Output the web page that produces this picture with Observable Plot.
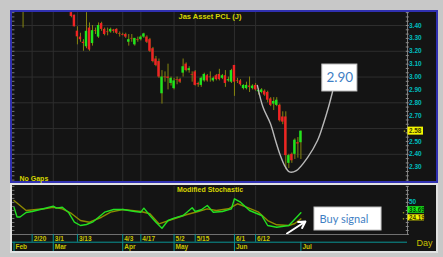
<!DOCTYPE html>
<html><head><meta charset="utf-8">
<script src="https://cdn.jsdelivr.net/npm/d3@7"></script>
<script src="https://cdn.jsdelivr.net/npm/@observablehq/plot@0.6"></script>
<style>
body{margin:0;background:#c8c8c8;}
#root{position:relative;width:443px;height:257px;overflow:hidden;background:#c8c8c8;}
.abs{position:absolute}
svg{display:block;max-width:none !important}
</style></head><body>
<div id="root">
 <div class="abs" style="left:10px;top:10px;width:424px;height:169px;border:2px solid #3030b0;background:#141414"></div>
 <div class="abs" style="left:10px;top:183px;width:424px;height:66px;border:2px solid #e2e2e2;background:#141414"></div>
 <div id="p1" class="abs" style="left:12px;top:12px;width:424px;height:169px"></div>
 <div id="p2" class="abs" style="left:12px;top:185px;width:424px;height:49px"></div>
 <div id="p3" class="abs" style="left:12px;top:233px;width:424px;height:18px"></div>
</div>
<script>
// ---- data (trading-day index on x) ----
const candleDay = [3, ...d3.range(19, 96)];
const candleOpen  = [3.54, 3.50,3.48,3.356,3.31,3.27,3.235,3.38,3.26,3.36,3.31,3.415,3.37,3.35,3.35,3.365,3.37,3.335,3.33,3.33,3.27,3.30,3.25,3.29,3.29,3.31,3.31,3.29,3.22,3.14,3.12,2.87,3.00,3.00,2.95,2.91,2.98,2.98,3.03,3.10,3.05,3.02,3.04,2.95,2.935,2.97,3.01,3.00,2.97,3.01,3.02,2.99,3.01,2.97,2.96,3.09,2.97,2.97,2.91,2.91,2.93,2.91,2.935,2.885,2.88,2.89,2.88,2.83,2.79,2.78,2.78,2.69,2.69,2.33,2.40,2.40,2.49,2.49];
const candleHigh  = [3.56, 3.51,3.48,3.39,3.34,3.29,3.50,3.42,3.40,3.38,3.42,3.425,3.38,3.38,3.38,3.37,3.375,3.35,3.34,3.34,3.33,3.33,3.30,3.31,3.32,3.34,3.32,3.30,3.23,3.16,3.14,3.05,3.04,3.10,3.00,2.99,3.00,2.99,3.14,3.11,3.08,3.04,3.05,2.96,3.00,3.03,3.02,3.04,3.00,3.02,3.06,3.02,3.05,3.00,3.06,3.09,2.99,2.98,2.94,2.96,3.00,2.94,2.95,2.91,2.91,2.90,2.89,2.84,2.84,2.84,2.79,2.73,2.73,2.40,2.41,2.52,2.53,2.58];
const candleLow   = [3.38, 3.46,3.39,3.25,3.27,3.20,3.22,3.20,3.24,3.33,3.30,3.355,3.32,3.32,3.34,3.34,3.33,3.31,3.32,3.30,3.24,3.27,3.24,3.27,3.28,3.30,3.26,3.19,3.11,3.08,2.99,2.79,2.96,2.90,2.93,2.90,2.94,2.95,3.00,3.04,3.03,2.96,2.93,2.92,2.92,2.96,2.96,2.96,2.96,2.97,2.97,2.98,2.92,2.96,2.95,2.85,2.95,2.93,2.90,2.90,2.88,2.90,2.89,2.86,2.87,2.85,2.80,2.77,2.74,2.77,2.65,2.63,2.28,2.29,2.33,2.36,2.37,2.36];
const candleClose = [3.53, 3.47,3.39,3.312,3.29,3.26,3.355,3.21,3.36,3.355,3.40,3.37,3.33,3.345,3.37,3.355,3.34,3.33,3.325,3.31,3.29,3.295,3.30,3.285,3.31,3.335,3.27,3.20,3.12,3.09,3.00,3.00,2.995,2.99,2.99,2.97,2.975,2.96,3.08,3.05,3.065,3.015,2.935,2.94,2.99,3.02,2.97,2.995,2.99,2.98,2.98,3.01,2.95,2.98,3.05,2.96,2.965,2.94,2.935,2.935,2.92,2.93,2.90,2.895,2.90,2.86,2.82,2.78,2.81,2.82,2.66,2.65,2.39,2.39,2.35,2.51,2.48,2.58];

const stochKDay = [0,1,2,4,6,10,13,14,16,18,20,22,24,26,28,30,33,36,40,42,43,45,47,49,51,53,56,59,60,62,64,66,69,72,73,75,78,82,84,87,91,95];
const stochK    = [42,27,27,34,35.6,40.2,43.8,40.7,42.2,34.5,19,13.9,15.5,19,26.7,34.5,38.7,38.7,35.6,34.5,40.7,29.4,19,9.7,21.6,25.2,29.4,41.3,35.6,38.2,44.8,34.5,35.6,39.7,55.2,49.9,37.1,29.4,13.9,11.3,13.9,33.69];
const stochDDay = [0,4,10,13,16,19,22,25,29,32,36,42,45,48,53,57,61,64,67,71,74,77,81,84,87,91,93,95];
const stochD    = [52.6,37.1,39.7,42.2,39.7,32.5,21.6,19,26.7,34.5,38.7,35.6,32,16.5,24.3,30.5,35.6,39.7,37.1,39.7,47.5,42.2,34.5,21.6,15,13.9,17,24.19];

const priceTicks = [3.40,3.30,3.20,3.10,3.00,2.90,2.80,2.70,2.50,2.40,2.30];
const priceGrid  = [3.40,3.20,3.00,2.80,2.60,2.40];
const stochTicks = [50];
const dateTickDay   = [6,13,21,36,42,53,60,73,80];
const dateTickLabel = ["2/20","3/1","3/13","4/3","4/17","5/2","5/15","6/1","6/12"];
const monthDay   = [0,13,36,53,73,95];
const monthLabel = ["Feb","Mar","Apr","May","Jun","Jul"];

// annotation: hand-drawn U curve toward the 2.90 callout
const curveDay   = [80.6,82.5,84.9,86.6,88.2,89.6,91.2,93.5,97.2,100.5,102.5,104.1,105.5];
const curvePrice = [2.934,2.763,2.639,2.507,2.391,2.313,2.263,2.274,2.375,2.507,2.639,2.763,2.888];

// ---- chart ----
const xMax = 130.3;
const font = "'Liberation Sans', Arial, sans-serif";
const style = {background:"#141414", fontFamily:font, overflow:"visible"};
const common = {width:424, marginLeft:0, marginRight:29, x:{domain:[-0.5,xMax], axis:null}, style};
const yellow = "#d6d600", teal = "#00bcbc";

const candles = candleDay.map((d,i)=>({day:d,o:candleOpen[i],h:candleHigh[i],l:candleLow[i],c:candleClose[i]}));
const minorP = d3.range(0,40).map(k=>3.5-k/30);
const lastClose = candleClose[candleClose.length-1];

const p1 = Plot.plot({
  ...common, height:169, marginTop:0, marginBottom:0,
  y:{domain:[2.189,3.501], axis:null},
  marks:[
    Plot.ruleY(priceGrid,{stroke:"#2e2e2e"}),
    Plot.ruleX(dateTickDay,{stroke:"#2e2e2e"}),
    Plot.ruleX(candles,{x:"day",y1:"l",y2:"h",stroke:"#85850f",clip:true}),
    Plot.rect(candles,{x1:d=>d.day-0.4,x2:d=>d.day+0.4,y1:"o",y2:"c",fill:d=>d.c>=d.o?"#1ee61e":"#ee2424",clip:true}),
    Plot.line(curveDay.map((d,i)=>({d,p:curvePrice[i]})),{x:"d",y:"p",curve:"catmull-rom",stroke:"#b8b8b8",strokeWidth:1.4}),
    Plot.rect([0],{x1:102.1,x2:113.7,y1:2.888,y2:3.097,fill:"white",stroke:"#c4c4c4"}),
    Plot.text(["2.90"],{x:107.9,y:2.992,fill:"#3f7fc4",fontSize:13.5,fontFamily:"Lato, 'Open Sans', sans-serif"}),
    Plot.ruleX([xMax],{stroke:"#7c7c7c"}),
    Plot.ruleY(minorP,{x1:xMax-0.4,x2:xMax+0.6,stroke:"#8a8a8a"}),
    Plot.ruleY(minorP,{x1:-0.5,x2:0.3,stroke:"#7a7a7a"}),
    Plot.text(priceTicks,{x:xMax,y:d=>d,text:d=>d.toFixed(2),dx:1.5,textAnchor:"start",fill:teal,fontWeight:"bold",fontSize:6.5}),
    Plot.dot([lastClose],{x:xMax,y:d=>d,dx:-3,r:0.8,fill:"#9a9a20",stroke:null}),
    Plot.rect([lastClose],{x1:xMax,x2:xMax,y1:d=>d,y2:d=>d,insetLeft:0.5,insetRight:-16,insetTop:-4,insetBottom:-4,fill:"#f4f400"}),
    Plot.text([lastClose],{x:xMax,y:d=>d,text:d=>d.toFixed(2),dx:1.6,textAnchor:"start",fill:"#3a3a00",fontWeight:"bold",fontSize:6.3}),
    Plot.text(["Jas Asset PCL (J)"],{frameAnchor:"top",dy:1.5,lineAnchor:"top",fill:yellow,fontWeight:"bold",fontSize:7.5}),
    Plot.text(["No Gaps"],{frameAnchor:"bottom-left",dx:7,dy:-0.5,lineAnchor:"bottom",textAnchor:"start",fill:yellow,fontWeight:"bold",fontSize:7})
  ]
});
document.getElementById("p1").append(p1);

const minorS = d3.range(0,13).map(k=>k*6.2);
const p2 = Plot.plot({
  ...common, height:49, marginTop:1, marginBottom:0,
  y:{domain:[0,74.2], axis:null},
  marks:[
    Plot.ruleX(dateTickDay,{stroke:"#2a2a2a"}),
    Plot.line(stochDDay.map((d,i)=>({d,v:stochD[i]})),{x:"d",y:"v",stroke:"#8e8a00",strokeWidth:1.4}),
    Plot.line(stochKDay.map((d,i)=>({d,v:stochK[i]})),{x:"d",y:"v",stroke:"#22e022",strokeWidth:1.4}),
    Plot.arrow([0],{x1:90.4,y1:1.5,x2:96.5,y2:20.1,stroke:"white",strokeWidth:2,headLength:6}),
    Plot.rect([0],{x1:99.5,x2:121.7,y1:6.2,y2:41.7,fill:"white",stroke:"#c4c4c4"}),
    Plot.text(["Buy signal"],{x:101.2,y:24,textAnchor:"start",fill:"#3f7fc4",fontSize:11,fontFamily:"Lato, 'Open Sans', sans-serif"}),
    Plot.ruleX([xMax],{stroke:"#7c7c7c"}),
    Plot.ruleY(minorS,{x1:xMax-0.4,x2:xMax+0.6,stroke:"#8a8a8a"}),
    Plot.ruleY(minorS,{x1:-0.5,x2:0.3,stroke:"#7a7a7a"}),
    Plot.text(stochTicks,{x:xMax,y:d=>d,text:d=>String(d),dx:1.5,textAnchor:"start",fill:teal,fontWeight:"bold",fontSize:6.5}),
    Plot.dot([stochK[stochK.length-1],stochD[stochD.length-1]],{x:xMax,y:d=>d,dx:-4,r:0.8,fill:"#9a9a20",stroke:null}),
    Plot.rect([stochK[stochK.length-1]],{x1:xMax,x2:xMax,y1:d=>d,y2:d=>d,insetLeft:0.5,insetRight:-17,insetTop:-6,insetBottom:-0.5,fill:"#19f019"}),
    Plot.text([stochK[stochK.length-1]],{x:xMax,y:d=>d,dy:-3,text:d=>d.toFixed(2),dx:1.4,textAnchor:"start",fill:"#003a00",fontWeight:"bold",fontSize:6.3}),
    Plot.rect([stochD[stochD.length-1]],{x1:xMax,x2:xMax,y1:d=>d,y2:d=>d,insetLeft:0.5,insetRight:-17,insetTop:-4,insetBottom:-2,fill:"#f4f400"}),
    Plot.text([stochD[stochD.length-1]],{x:xMax,y:d=>d,dy:-1,text:d=>d.toFixed(2),dx:1.4,textAnchor:"start",fill:"#3a3a00",fontWeight:"bold",fontSize:6.3}),
    Plot.text(["Modified Stochastic"],{frameAnchor:"top",dy:1,lineAnchor:"top",fill:yellow,fontWeight:"bold",fontSize:7})
  ]
});
document.getElementById("p2").append(p2);

const p3 = Plot.plot({
  ...common, height:18, marginTop:1, marginBottom:0,
  style:{...style, background:"transparent"},
  y:{domain:[0,17], axis:null},
  marks:[
    Plot.ruleY([17],{stroke:"#707070"}),
    Plot.ruleY([9.3],{stroke:"#0a9696"}),
    Plot.ruleX(dateTickDay,{y1:9.3,y2:17,stroke:"#0a9696"}),
    Plot.ruleX(monthDay,{y1:0,y2:9.3,stroke:"#0a9696"}),
    Plot.text(dateTickDay,{x:d=>d,y:12.9,text:(d,i)=>dateTickLabel[i],dx:1.5,textAnchor:"start",fill:"#c8c400",fontWeight:"bold",fontSize:6.5}),
    Plot.text(monthDay,{x:d=>d,y:4.7,text:(d,i)=>monthLabel[i],dx:1.5,textAnchor:"start",fill:"#c8c400",fontWeight:"bold",fontSize:6.5}),
    Plot.text(["Day"],{x:xMax,y:8.3,dx:9,textAnchor:"start",fill:"#c8c000",fontSize:9})
  ]
});
document.getElementById("p3").append(p3);
</script>
</body></html>
